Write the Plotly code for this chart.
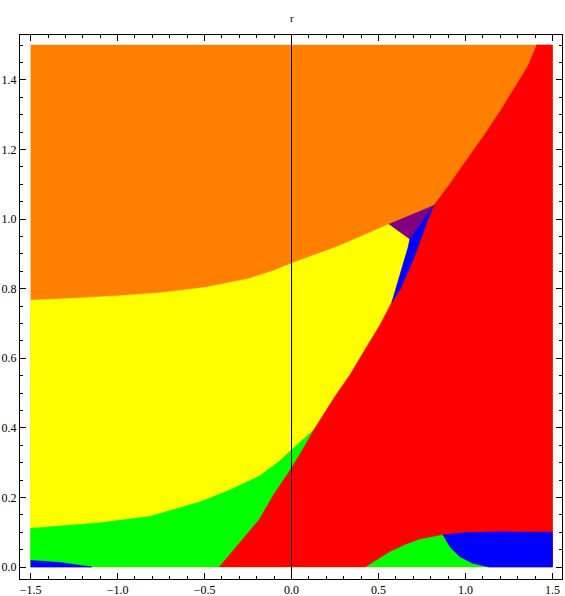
import plotly.graph_objects as go

# ── region boundaries (data coords) ──────────────────────────────────────────

# orange / yellow boundary, left edge -> purple corner
oy_x = [-1.5, -1.33, -1.0, -0.75, -0.5, -0.25, -0.1, 0.0, 0.12, 0.25, 0.4, 0.56]
oy_y = [0.767, 0.770, 0.779, 0.788, 0.803, 0.828, 0.852, 0.873, 0.895, 0.918, 0.950, 0.985]

# green / yellow boundary, left edge -> green tip
gy_x = [-1.5, -1.1, -0.814, -0.526, -0.354, -0.182, -0.067, 0.03, 0.13]
gy_y = [0.111, 0.127, 0.145, 0.187, 0.221, 0.262, 0.305, 0.35, 0.395]

# red left boundary: bottom -> green tip, green tip -> blue tip
red_lo_x = [-0.415, -0.33, -0.25, -0.187, -0.10, 0.0, 0.08, 0.13]
red_lo_y = [0.0, 0.05, 0.10, 0.135, 0.21, 0.284, 0.351, 0.395]
red_up_x = [0.13, 0.25, 0.336, 0.422, 0.508, 0.577]
red_up_y = [0.395, 0.49, 0.552, 0.624, 0.695, 0.761]

# thin blue wedge: red side and yellow side, tip -> top
bs_r_x = [0.577, 0.623, 0.699, 0.776, 0.818]
bs_r_y = [0.761, 0.796, 0.882, 0.988, 1.039]
bs_l_x = [0.577, 0.604, 0.642, 0.671, 0.680]
bs_l_y = [0.761, 0.805, 0.873, 0.920, 0.942]

# red / orange boundary
ro_x = [0.818, 0.91, 1.0, 1.1, 1.2, 1.3, 1.36, 1.41]
ro_y = [1.039, 1.10, 1.165, 1.235, 1.31, 1.39, 1.44, 1.5]

# bottom right: green cap and blue pocket
brg_x = [0.428, 0.48, 0.566, 0.652, 0.738, 0.87]
brg_y = [0.0, 0.017, 0.043, 0.063, 0.079, 0.092]
gb_x = [0.87, 0.91, 0.967, 1.041, 1.139]
gb_y = [0.092, 0.058, 0.030, 0.011, 0.0]
brb_x = [0.87, 1.006, 1.198, 1.387, 1.5]
brb_y = [0.092, 0.099, 0.101, 0.101, 0.100]

# bottom left blue sliver
blb_x = [-1.5, -1.33, -1.15]
blb_y = [0.019, 0.013, 0.0]

x_ticks = [-1.5, -1.0, -0.5, 0.0, 0.5, 1.0, 1.5]
y_ticks = [0.0, 0.2, 0.4, 0.6, 0.8, 1.0, 1.2, 1.4]

ORANGE, YELLOW, GREEN = "#FF8000", "#FFFF00", "#00FF00"
RED, BLUE, PURPLE = "#FF0000", "#0000FF", "#800080"

rev = lambda a: a[::-1]

polys = [
    (ORANGE, [-1.5, 1.5, 1.5, -1.5], [0.0, 0.0, 1.5, 1.5]),
    (YELLOW,
     [-1.5] + oy_x + rev(bs_l_x) + rev(red_up_x) + rev(gy_x),
     [0.0] + oy_y + rev(bs_l_y) + rev(red_up_y) + rev(gy_y)),
    (GREEN,
     [-1.5] + gy_x + rev(red_lo_x),
     [0.0] + gy_y + rev(red_lo_y)),
    (RED,
     red_lo_x + red_up_x[1:] + bs_r_x[1:] + ro_x[1:] + [1.5, 1.5],
     red_lo_y + red_up_y[1:] + bs_r_y[1:] + ro_y[1:] + [1.5, 0.0]),
    (PURPLE, [oy_x[-1], ro_x[0], bs_l_x[-1]], [oy_y[-1], ro_y[0], bs_l_y[-1]]),
    (BLUE, bs_r_x + rev(bs_l_x), bs_r_y + rev(bs_l_y)),
    (GREEN, brg_x + gb_x[1:], brg_y + gb_y[1:]),
    (BLUE, brb_x + [1.5] + rev(gb_x)[:-1], brb_y + [0.0] + rev(gb_y)[:-1]),
    (BLUE, blb_x + [-1.5], blb_y + [0.0]),
]

fig = go.Figure()
for col, xs, ys in polys:
    fig.add_trace(go.Scatter(
        x=xs, y=ys, mode="lines", fill="toself", fillcolor=col,
        line=dict(color=col, width=0.6),
        hoverinfo="skip", showlegend=False,
    ))

# vertical axis through x = 0
fig.add_shape(type="line", x0=0, x1=0, y0=0, y1=1, xref="x", yref="paper",
              line=dict(color="black", width=1), layer="above")

# axis label "r" above the frame
fig.add_annotation(text="r", x=0, xref="x", yref="paper",
                   y=(596 - 18 - 17) / (596 - 35 - 17), yanchor="middle",
                   showarrow=False,
                   font=dict(family="Liberation Serif", size=11, color="black"))

tick_font = dict(family="Liberation Serif", size=12, color="black")
axis_common = dict(
    showline=True, linecolor="black", linewidth=1, mirror="allticks",
    ticks="inside", ticklen=6, tickcolor="black", tickwidth=1,
    showgrid=False, zeroline=False, tickfont=tick_font, automargin=False,
)
fig.update_xaxes(
    range=[-1.561, 1.555],
    tickvals=x_ticks, ticktext=[f"{v:.1f}".replace("-", "\u2212") for v in x_ticks],
    minor=dict(dtick=0.1, tick0=0, ticks="inside", ticklen=3, tickcolor="black", showgrid=False),
    **axis_common,
)
fig.update_yaxes(
    range=[-0.0345, 1.529],
    tickvals=y_ticks, ticktext=[f"{v:.1f}" for v in y_ticks],
    minor=dict(dtick=0.05, tick0=0, ticks="inside", ticklen=3, tickcolor="black", showgrid=False),
    **axis_common,
)
fig.update_layout(
    width=565, height=596,
    margin=dict(l=20, r=3, t=35, b=17),
    paper_bgcolor="white", plot_bgcolor="white",
)

# drop the default 8px page margin so the figure sits at the window's corner
fig.write_html("out.html", config={"displayModeBar": False},
               post_script="document.body.style.margin='0';")
